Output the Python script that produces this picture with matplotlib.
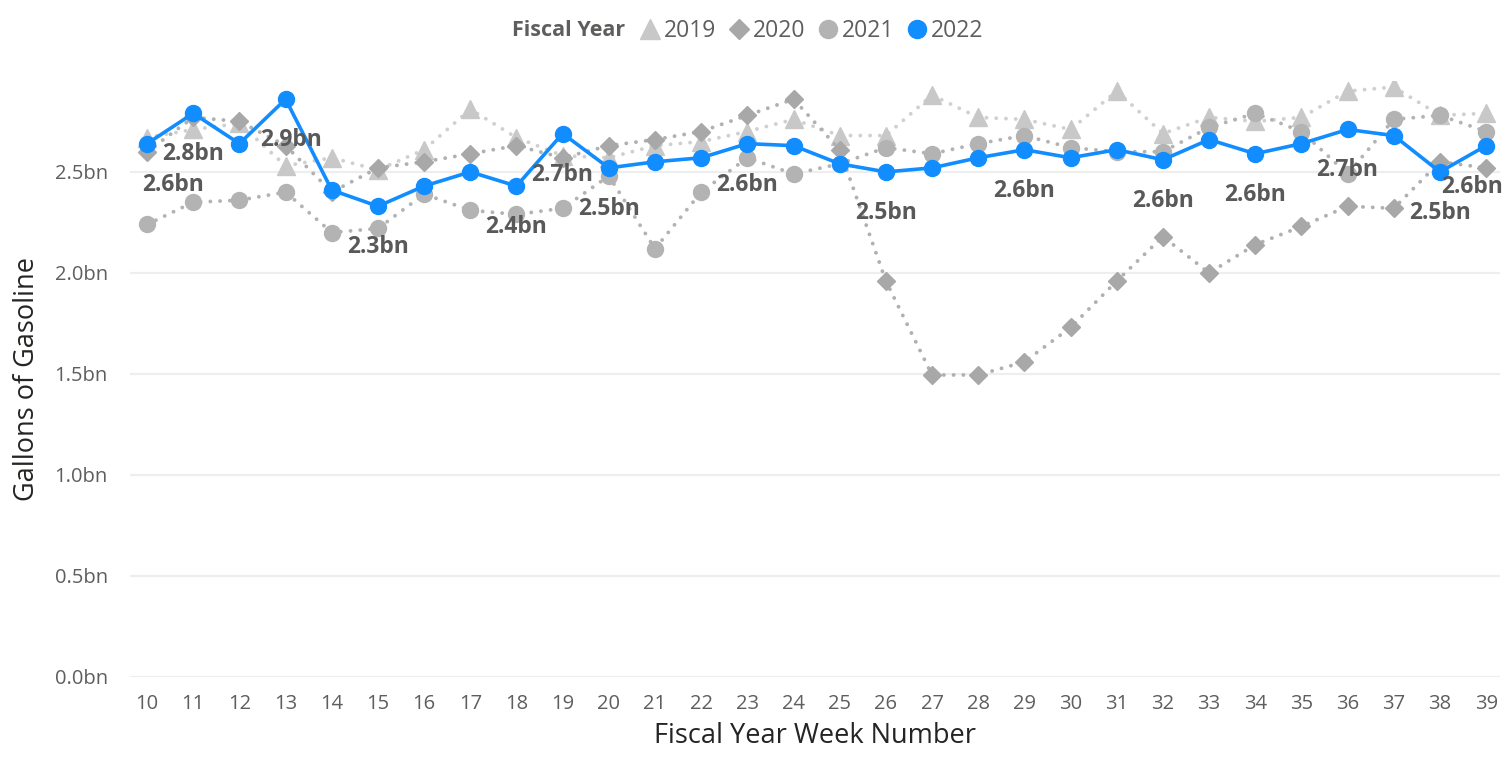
import matplotlib
matplotlib.use("Agg")
import matplotlib.pyplot as plt
from matplotlib.lines import Line2D

plt.rcParams['font.family'] = ['Open Sans', 'DejaVu Sans']

weeks = list(range(10, 40))

gal_2019 = [2.67, 2.71, 2.74, 2.53, 2.57, 2.51, 2.61, 2.81, 2.67, 2.58,
            2.57, 2.63, 2.65, 2.70, 2.76, 2.68, 2.68, 2.88, 2.77, 2.76,
            2.71, 2.90, 2.69, 2.77, 2.75, 2.77, 2.90, 2.92, 2.78, 2.79]
gal_2020 = [2.60, 2.77, 2.75, 2.63, 2.40, 2.52, 2.55, 2.59, 2.63, 2.57,
            2.63, 2.66, 2.70, 2.78, 2.86, 2.61, 1.96, 1.495, 1.495, 1.56,
            1.73, 1.96, 2.18, 2.00, 2.14, 2.23, 2.33, 2.32, 2.55, 2.52]
gal_2021 = [2.24, 2.35, 2.36, 2.40, 2.20, 2.22, 2.39, 2.31, 2.29, 2.32,
            2.48, 2.12, 2.40, 2.57, 2.49, 2.54, 2.62, 2.59, 2.64, 2.68,
            2.62, 2.60, 2.60, 2.72, 2.79, 2.70, 2.49, 2.76, 2.78, 2.70]
gal_2022 = [2.64, 2.79, 2.64, 2.86, 2.41, 2.33, 2.43, 2.50, 2.43, 2.69,
            2.52, 2.55, 2.57, 2.64, 2.63, 2.54, 2.50, 2.52, 2.57, 2.61,
            2.57, 2.61, 2.56, 2.66, 2.59, 2.64, 2.71, 2.68, 2.50, 2.63]

# weeks of 2022 that carry a data label
label_weeks = [10, 11, 13, 15, 18, 19, 20, 23, 26, 29, 32, 34, 36, 38, 39]
# small horizontal nudges (pixels) so labels stay inside the plot
label_nudge = {10: 26, 13: 6, 39: -14}

fig = plt.figure(figsize=(15.02, 7.59), dpi=100)
ax = fig.add_axes([130 / 1502, 1 - 677 / 759, 1370 / 1502, (677 - 81) / 759])

dot = (0, (0.01, 2.5))
ax.plot(weeks, gal_2019, color='#d0d0d0', lw=2.8, ls=dot, dash_capstyle='round',
        marker='^', ms=12.5, mfc='#c8c8c8', mec='#c8c8c8', zorder=2)
ax.plot(weeks, gal_2020, color='#b0b0b0', lw=2.8, ls=dot, dash_capstyle='round',
        marker='D', ms=9, mfc='#a8a8a8', mec='#a8a8a8', zorder=3)
ax.plot(weeks, gal_2021, color='#b3b3b3', lw=2.8, ls=dot, dash_capstyle='round',
        marker='o', ms=11.5, mfc='#b3b3b3', mec='#b3b3b3', zorder=4)
ax.plot(weeks, gal_2022, color='#118DFF', lw=2.6, marker='o', ms=11.5,
        mfc='#118DFF', mec='#118DFF', zorder=5)

for w in label_weeks:
    v = gal_2022[weeks.index(w)]
    ax.annotate(f"{v:.1f}bn", (w, v), xytext=(label_nudge.get(w, 0), -41),
                textcoords='offset pixels', ha='center', va='center',
                fontsize=16.5, fontweight='bold', color='#595959', zorder=6)

ax.set_xlim(9.63, 39.3)
ax.set_ylim(0, 2.95)
ax.set_xticks(weeks)
ax.set_yticks([0, 0.5, 1.0, 1.5, 2.0, 2.5])
ax.set_yticklabels(['0.0bn', '0.5bn', '1.0bn', '1.5bn', '2.0bn', '2.5bn'])
ax.tick_params(axis='both', length=0, labelsize=14.5, labelcolor='#605e5c')
ax.tick_params(axis='y', pad=16)
ax.tick_params(axis='x', pad=12)
ax.grid(axis='y', color='#eeeeee', lw=1.6, zorder=0)
ax.set_axisbelow(True)
for s in ax.spines.values():
    s.set_visible(False)

ax.set_xlabel('Fiscal Year Week Number', fontsize=19.5, color='#252423', labelpad=6)
ax.set_ylabel('Gallons of Gasoline', fontsize=19.5, color='#252423', labelpad=10)

# legend across the top
fig.text(625 / 1502, 1 - 31 / 759, 'Fiscal Year', ha='right', va='center',
         fontsize=15.5, fontweight='bold', color='#605e5c')
handles = [
    Line2D([], [], ls='none', marker='^', ms=14, color='#c8c8c8'),
    Line2D([], [], ls='none', marker='D', ms=10, color='#a8a8a8'),
    Line2D([], [], ls='none', marker='o', ms=13, color='#b3b3b3'),
    Line2D([], [], ls='none', marker='o', ms=13, color='#118DFF'),
]
fig.legend(handles, ['2019', '2020', '2021', '2022'], loc='center left',
           bbox_to_anchor=(641 / 1502, 1 - 31 / 759), ncol=4, frameon=False,
           handlelength=0.8, handletextpad=0.2, columnspacing=0.6,
           fontsize=16.5, labelcolor='#605e5c', borderpad=0, borderaxespad=0)

fig.savefig('out.png', dpi=100)
